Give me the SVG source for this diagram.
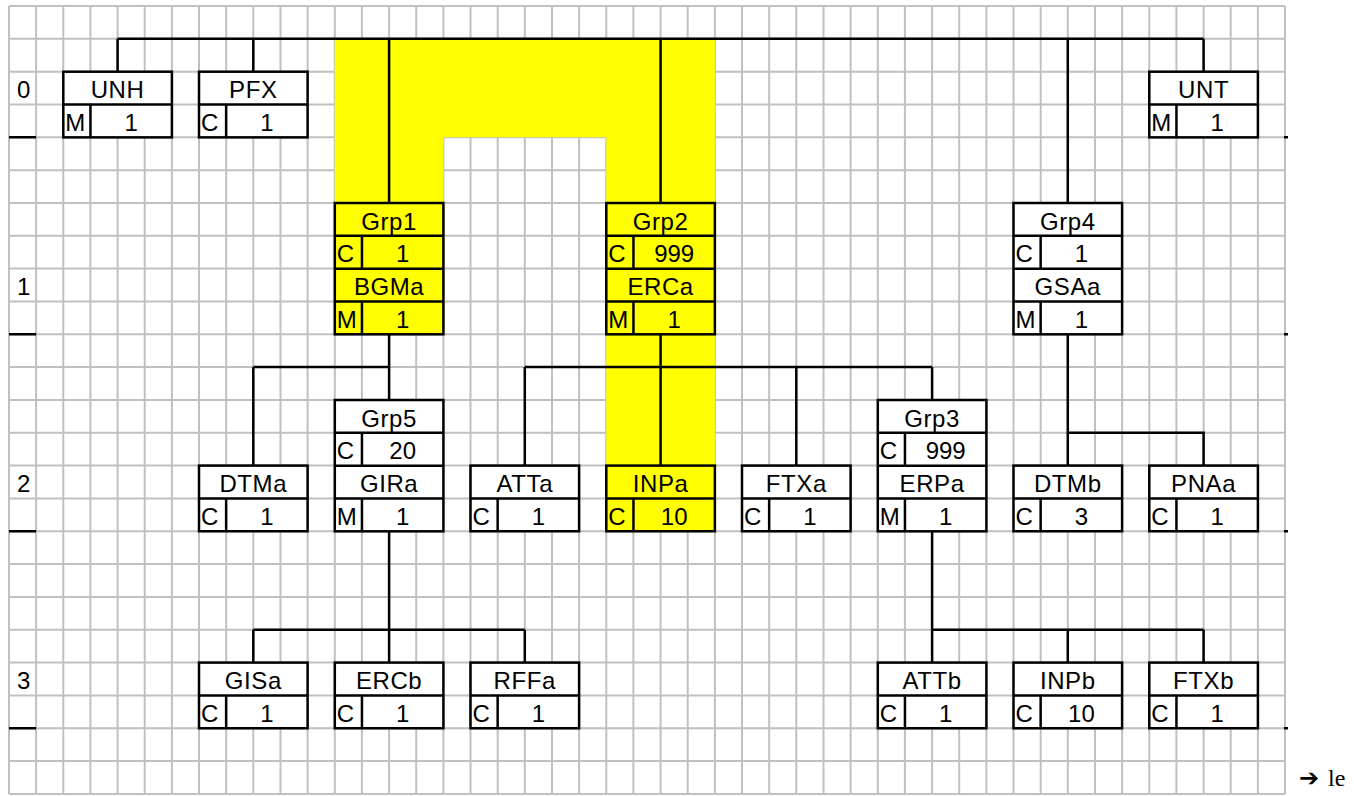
<svg xmlns="http://www.w3.org/2000/svg" width="1354" height="796" viewBox="0 0 1354 796">
<style>
.grid{stroke:#c0c0c0;stroke-width:2;fill:none}
.ln{stroke:#000;stroke-width:2.5;fill:none}
.box{stroke:#000;stroke-width:2.5;fill:#fff}
.hl .box{fill:#ffff00}
text{font-family:"Liberation Sans",Arial,sans-serif;font-size:24px;fill:#000}
.t{text-anchor:middle;letter-spacing:0.6px}
.v{text-anchor:middle}
</style>
<defs>
<g id="b2">
<rect class="box" x="0" y="0" width="108.6" height="65.66"/>
<path class="ln" d="M0 32.83H108.6M27.15 32.83V65.66"/>
</g>
<g id="b4">
<rect class="box" x="0" y="0" width="108.6" height="131.32"/>
<path class="ln" d="M0 32.83H108.6M0 65.66H108.6M0 98.49H108.6M27.15 32.83V65.66M27.15 98.49V131.32"/>
</g>
</defs>
<rect x="0" y="0" width="1354" height="796" fill="#fff"/>
<path class="grid" d="M9 6V794M36.1 6V794M63.3 6V794M90.4 6V794M117.6 6V794M144.7 6V794M171.9 6V794M199 6V794M226.2 6V794M253.3 6V794M280.5 6V794M307.6 6V794M334.8 6V794M361.9 6V794M389.1 6V794M416.2 6V794M443.4 6V794M470.5 6V794M497.7 6V794M524.8 6V794M552 6V794M579.1 6V794M606.3 6V794M633.4 6V794M660.6 6V794M687.7 6V794M714.9 6V794M742 6V794M769.2 6V794M796.3 6V794M823.5 6V794M850.6 6V794M877.8 6V794M904.9 6V794M932.1 6V794M959.2 6V794M986.4 6V794M1013.5 6V794M1040.7 6V794M1067.8 6V794M1095 6V794M1122.1 6V794M1149.3 6V794M1176.4 6V794M1203.6 6V794M1230.7 6V794M1257.9 6V794M1285 6V794M9 6H1285M9 38.8H1285M9 71.7H1285M9 104.5H1285M9 137.3H1285M9 170.2H1285M9 203H1285M9 235.8H1285M9 268.6H1285M9 301.5H1285M9 334.3H1285M9 367.1H1285M9 400H1285M9 432.8H1285M9 465.6H1285M9 498.5H1285M9 531.3H1285M9 564.1H1285M9 596.9H1285M9 629.8H1285M9 662.6H1285M9 695.4H1285M9 728.3H1285M9 761.1H1285M9 794H1285"/>
<path id="highlight" fill="#ffff00" d="M334.8 38.8H714.9V531.3H606.3V137.3H443.4V334.3H334.8Z"/>
<g id="rowlabels">
<text x="17" y="98">0</text>
<text x="17" y="294.6">1</text>
<text x="17" y="491.6">2</text>
<text x="17" y="688.6">3</text>
<path class="ln" d="M9 137.3H36.1M9 334.3H36.1M9 531.3H36.1M9 728.3H36.1M1284 137.3H1288M1284 334.3H1288M1284 531.3H1288M1284 728.3H1288"/>
</g>
<g id="connectors" class="ln">
<path d="M117.6 38.8H1203.6M117.6 38.8V71.7M253.3 38.8V71.7M389.1 38.8V203M660.6 38.8V203M1067.8 38.8V203M1203.6 38.8V71.7"/>
<path d="M389.1 334.3V400M253.3 367.1H389.1M253.3 367.1V465.6"/>
<path d="M660.6 334.3V465.6M524.8 367.1H932.1M524.8 367.1V465.6M796.3 367.1V465.6M932.1 367.1V400"/>
<path d="M1067.8 334.3V465.6M1067.8 432.8H1203.6V465.6"/>
<path d="M389.1 531.3V662.6M253.3 629.8H524.8M253.3 629.8V662.6M524.8 629.8V662.6"/>
<path d="M932.1 531.3V662.6M932.1 629.8H1203.6M1067.8 629.8V662.6M1203.6 629.8V662.6"/>
</g>
<g id="UNH" transform="translate(63.3,71.7)"><use href="#b2"/><text class="t" x="54.3" y="26.5">UNH</text><text x="2" y="59.3">M</text><text class="v" x="67.9" y="59.3">1</text></g>
<g id="PFX" transform="translate(199,71.7)"><use href="#b2"/><text class="t" x="54.3" y="26.5">PFX</text><text x="2" y="59.3">C</text><text class="v" x="67.9" y="59.3">1</text></g>
<g id="UNT" transform="translate(1149.3,71.7)"><use href="#b2"/><text class="t" x="54.3" y="26.5">UNT</text><text x="2" y="59.3">M</text><text class="v" x="67.9" y="59.3">1</text></g>
<g id="Grp1" class="hl" transform="translate(334.8,203)"><rect class="box" x="0" y="0" width="108.6" height="131.32"/><path class="ln" d="M0 32.83H108.6M0 65.66H108.6M0 98.49H108.6M27.15 32.83V65.66M27.15 98.49V131.32"/><text class="t" x="54.3" y="26.5">Grp1</text><text x="2" y="59.3">C</text><text class="v" x="67.9" y="59.3">1</text><text class="t" x="54.3" y="92.2">BGMa</text><text x="2" y="125">M</text><text class="v" x="67.9" y="125">1</text></g>
<g id="Grp2" class="hl" transform="translate(606.3,203)"><rect class="box" x="0" y="0" width="108.6" height="131.32"/><path class="ln" d="M0 32.83H108.6M0 65.66H108.6M0 98.49H108.6M27.15 32.83V65.66M27.15 98.49V131.32"/><text class="t" x="54.3" y="26.5">Grp2</text><text x="2" y="59.3">C</text><text class="v" x="67.9" y="59.3">999</text><text class="t" x="54.3" y="92.2">ERCa</text><text x="2" y="125">M</text><text class="v" x="67.9" y="125">1</text></g>
<g id="Grp4" transform="translate(1013.5,203)"><use href="#b4"/><text class="t" x="54.3" y="26.5">Grp4</text><text x="2" y="59.3">C</text><text class="v" x="67.9" y="59.3">1</text><text class="t" x="54.3" y="92.2">GSAa</text><text x="2" y="125">M</text><text class="v" x="67.9" y="125">1</text></g>
<g id="Grp5" transform="translate(334.8,400)"><use href="#b4"/><text class="t" x="54.3" y="26.5">Grp5</text><text x="2" y="59.3">C</text><text class="v" x="67.9" y="59.3">20</text><text class="t" x="54.3" y="92.2">GIRa</text><text x="2" y="125">M</text><text class="v" x="67.9" y="125">1</text></g>
<g id="Grp3" transform="translate(877.8,400)"><use href="#b4"/><text class="t" x="54.3" y="26.5">Grp3</text><text x="2" y="59.3">C</text><text class="v" x="67.9" y="59.3">999</text><text class="t" x="54.3" y="92.2">ERPa</text><text x="2" y="125">M</text><text class="v" x="67.9" y="125">1</text></g>
<g id="DTMa" transform="translate(199,465.6)"><use href="#b2"/><text class="t" x="54.3" y="26.5">DTMa</text><text x="2" y="59.3">C</text><text class="v" x="67.9" y="59.3">1</text></g>
<g id="ATTa" transform="translate(470.5,465.6)"><use href="#b2"/><text class="t" x="54.3" y="26.5">ATTa</text><text x="2" y="59.3">C</text><text class="v" x="67.9" y="59.3">1</text></g>
<g id="INPa" class="hl" transform="translate(606.3,465.6)"><rect class="box" x="0" y="0" width="108.6" height="65.66"/><path class="ln" d="M0 32.83H108.6M27.15 32.83V65.66"/><text class="t" x="54.3" y="26.5">INPa</text><text x="2" y="59.3">C</text><text class="v" x="67.9" y="59.3">10</text></g>
<g id="FTXa" transform="translate(742,465.6)"><use href="#b2"/><text class="t" x="54.3" y="26.5">FTXa</text><text x="2" y="59.3">C</text><text class="v" x="67.9" y="59.3">1</text></g>
<g id="DTMb" transform="translate(1013.5,465.6)"><use href="#b2"/><text class="t" x="54.3" y="26.5">DTMb</text><text x="2" y="59.3">C</text><text class="v" x="67.9" y="59.3">3</text></g>
<g id="PNAa" transform="translate(1149.3,465.6)"><use href="#b2"/><text class="t" x="54.3" y="26.5">PNAa</text><text x="2" y="59.3">C</text><text class="v" x="67.9" y="59.3">1</text></g>
<g id="GISa" transform="translate(199,662.6)"><use href="#b2"/><text class="t" x="54.3" y="26.5">GISa</text><text x="2" y="59.3">C</text><text class="v" x="67.9" y="59.3">1</text></g>
<g id="ERCb" transform="translate(334.8,662.6)"><use href="#b2"/><text class="t" x="54.3" y="26.5">ERCb</text><text x="2" y="59.3">C</text><text class="v" x="67.9" y="59.3">1</text></g>
<g id="RFFa" transform="translate(470.5,662.6)"><use href="#b2"/><text class="t" x="54.3" y="26.5">RFFa</text><text x="2" y="59.3">C</text><text class="v" x="67.9" y="59.3">1</text></g>
<g id="ATTb" transform="translate(877.8,662.6)"><use href="#b2"/><text class="t" x="54.3" y="26.5">ATTb</text><text x="2" y="59.3">C</text><text class="v" x="67.9" y="59.3">1</text></g>
<g id="INPb" transform="translate(1013.5,662.6)"><use href="#b2"/><text class="t" x="54.3" y="26.5">INPb</text><text x="2" y="59.3">C</text><text class="v" x="67.9" y="59.3">10</text></g>
<g id="FTXb" transform="translate(1149.3,662.6)"><use href="#b2"/><text class="t" x="54.3" y="26.5">FTXb</text><text x="2" y="59.3">C</text><text class="v" x="67.9" y="59.3">1</text></g>
<g id="note">
<text x="1299" y="786" style="font-family:'DejaVu Sans',sans-serif;font-size:24px;font-weight:bold">➔</text>
<text x="1328" y="786" style="font-family:'Liberation Serif',serif;font-size:24px">le</text>
</g>
</svg>
